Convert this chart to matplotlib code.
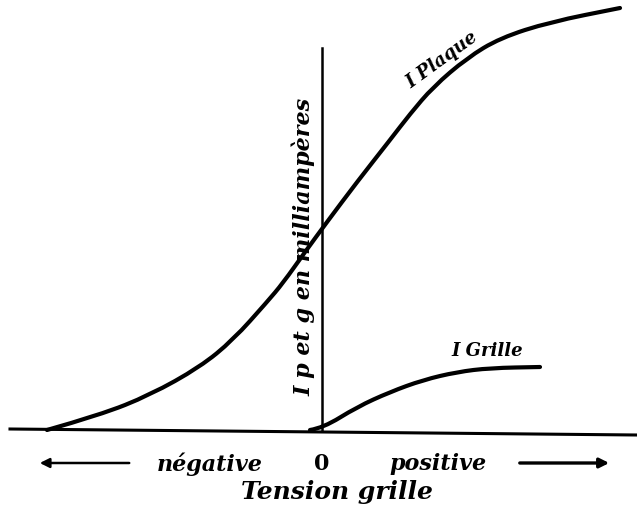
import matplotlib.pyplot as plt
from matplotlib.path import Path
from matplotlib.patches import PathPatch
import numpy as np

# Values (arbitrary units: grid voltage / current)
plaque_v = [-275, -222, -172, -122, -89, -55, -39, -17, 5, 35, 68, 88, 111, 145, 178, 228, 298]
plaque_i = [0, 15, 35, 63, 90, 128, 147, 178, 208, 248, 290, 316, 343, 372, 392, 408, 422]

grille_v = [-12, 1, 35, 68, 101, 135, 168, 218]
grille_i = [0, 2, 23, 38, 50, 58, 62, 63]

axis_left, axis_right = -312, 315
axis_top = 382


def smooth_path(xs, ys):
    # quadratic bezier through midpoints, using the read points as controls
    pts = np.column_stack([xs, ys]).astype(float)
    verts = [pts[0]]
    codes = [Path.MOVETO]
    for k in range(1, len(pts) - 1):
        verts += [pts[k], (pts[k] + pts[k + 1]) / 2]
        codes += [Path.CURVE3, Path.CURVE3]
    verts.append(pts[-1])
    codes.append(Path.LINETO)
    return Path(verts, codes)


fig = plt.figure(figsize=(6.37, 5.12), dpi=100)
ax = fig.add_axes([0, 0, 1, 1])
ax.set_xlim(-322, 315)
ax.set_ylim(-82, 430)
ax.axis('off')

font = dict(family='DejaVu Serif', style='italic', weight='bold')

# axes of the diagram
ax.plot([axis_left, axis_right], [1, -5], color='black', lw=2.2)
ax.plot([0, 0], [0, axis_top], color='black', lw=1.8)

# characteristic curves
for xs, ys in [(plaque_v, plaque_i), (grille_v, grille_i)]:
    ax.add_patch(PathPatch(smooth_path(xs, ys), fill=False, color='black',
                           lw=3.0, capstyle='round'))

# labels
ax.text(-18, 183, 'I p et g en milliampères', rotation=90, ha='center',
        va='center', fontsize=16, **font)
ax.text(120, 370, 'I Plaque', rotation=36, ha='center', va='center',
        fontsize=13, **font)
ax.text(165, 79, 'I Grille', ha='center', va='center', fontsize=13, **font)

ax.text(-112, -34, 'négative', ha='center', va='center', fontsize=16, **font)
ax.text(0, -34, '0', ha='center', va='center', fontsize=16,
        family='DejaVu Serif', weight='bold')
ax.text(116, -34, 'positive', ha='center', va='center', fontsize=16, **font)
ax.text(15, -62, 'Tension grille', ha='center', va='center', fontsize=18, **font)

ax.annotate('', xy=(-285, -33), xytext=(-190, -33),
            arrowprops=dict(arrowstyle='-|>', color='black', lw=1.8,
                            mutation_scale=14))
ax.annotate('', xy=(290, -33), xytext=(195, -33),
            arrowprops=dict(arrowstyle='-|>', color='black', lw=2.4,
                            mutation_scale=14))

fig.savefig('out.png', dpi=100)
